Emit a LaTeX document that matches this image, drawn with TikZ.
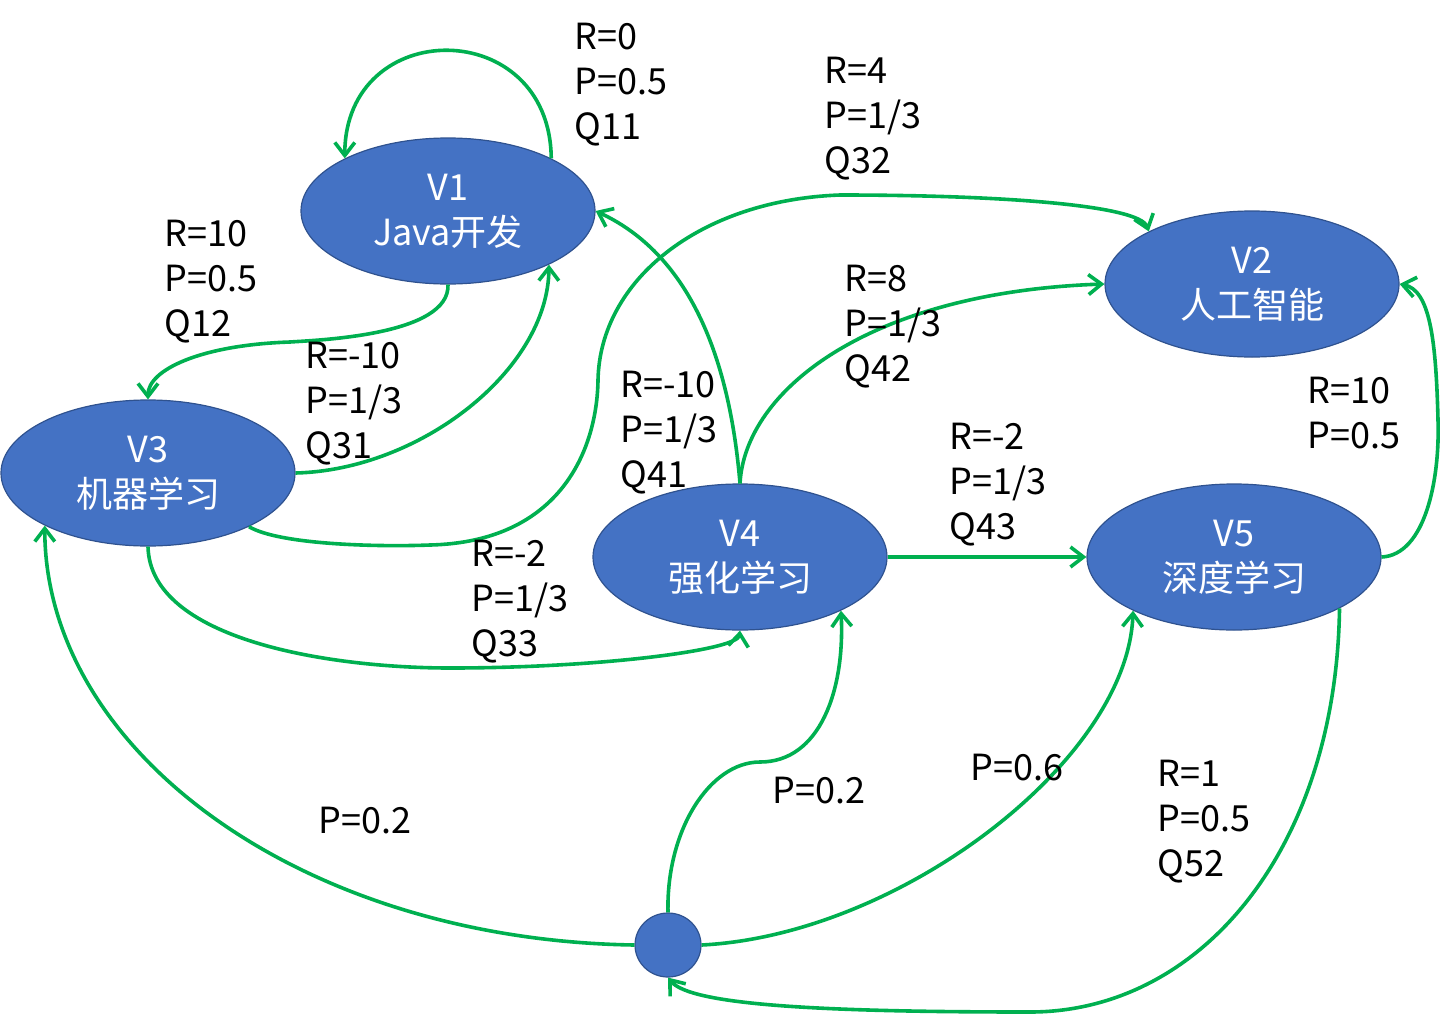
\documentclass[tikz,border=0pt]{standalone}
\usepackage{fontspec}
\setmainfont{Noto Sans CJK SC}
\usetikzlibrary{shapes.geometric,arrows.meta}
\definecolor{nodeblue}{HTML}{4472C4}
\definecolor{nodeborder}{HTML}{2F528F}
\definecolor{edgegreen}{HTML}{00B050}
\begin{document}
\begin{tikzpicture}[x=0.5pt,y=-0.5pt,
  state/.style={ellipse, fill=nodeblue, draw=nodeborder, line width=0.6pt,
    minimum width=147pt, minimum height=73pt, inner sep=0pt, text=white,
    align=center, font=\fontsize{18}{22.5}\selectfont},
  dot/.style={ellipse, fill=nodeblue, draw=nodeborder, line width=0.6pt,
    minimum width=33pt, minimum height=32pt, inner sep=0pt},
  edge/.style={draw=edgegreen, line width=1.8pt,
    -{Straight Barb[length=6.5pt,width=10pt]}},
  lbl/.style={align=left, anchor=north west, inner sep=0pt,
    font=\fontsize{18}{22.5}\selectfont}
]
\useasboundingbox (0,0) rectangle (1440,1017);

% states
\node[state] (v1) at (448,211) {V1\\Java开发};
\node[state] (v2) at (1252,284) {V2\\人工智能};
\node[state] (v3) at (148,473) {V3\\机器学习};
\node[state] (v4) at (740,557) {V4\\强化学习};
\node[state] (v5) at (1234,557) {V5\\深度学习};
\node[dot] (dot) at (668,945) {};

% edges
\draw[edge] (v1.27) .. controls (550,15) and (345,15) .. (v1.153);
\draw[edge] (v1.south) .. controls (450,335) and (320,340) .. (290,342)
  .. controls (200,345) and (148,370) .. (v3.north);
\draw[edge] (v3.east) .. controls (420,470) and (548,370) .. (v1.-28);
\draw[edge] (v3.-28) .. controls (280,545) and (380,547) .. (430,545)
  .. controls (560,542) and (597,450) .. (598,380)
  .. controls (600,280) and (700,200) .. (840,195)
  .. controls (1000,195) and (1140,205) .. (v2.153);
\draw[edge] (v4.north) .. controls (728,340) and (680,250) .. (v1.east);
\draw[edge] (v4.north) .. controls (745,390) and (870,292) .. (v2.west);
\draw[edge] (v4.east) -- (v5.west);
\draw[edge] (v3.south) .. controls (150,640) and (330,668) .. (450,668)
  .. controls (600,668) and (738,650) .. (v4.south);
\draw[edge] (v5.east) .. controls (1425,555) and (1440,480) .. (1438,420)
  .. controls (1436,340) and (1430,290) .. (v2.east);
\draw[edge] (dot.west) .. controls (300,940) and (45,750) .. (v3.207);
\draw[edge] (dot.north) .. controls (666,830) and (710,762) .. (760,762)
  .. controls (820,762) and (845,690) .. (v4.-28);
\draw[edge] (dot.east) .. controls (900,935) and (1128,760) .. (v5.208);
\draw[edge] (v5.-26) .. controls (1336,850) and (1200,1012) .. (1030,1012)
  .. controls (820,1012) and (690,1005) .. (dot.south);

% labels
\node[lbl] (l11) at (574,23) {R=0\\P=0.5\\Q11};
\node[lbl] (l32) at (824,57) {R=4\\P=1/3\\Q32};
\node[lbl] (l12) at (164,220) {R=10\\P=0.5\\Q12};
\node[lbl] (l31) at (305,342) {R=-10\\P=1/3\\Q31};
\node[lbl] (l42) at (844,265) {R=8\\P=1/3\\Q42};
\node[lbl] (l41) at (620,371) {R=-10\\P=1/3\\Q41};
\node[lbl] (l43) at (949,423) {R=-2\\P=1/3\\Q43};
\node[lbl] (l52b) at (1307,377) {R=10\\P=0.5};
\node[lbl] (l33) at (471,540) {R=-2\\P=1/3\\Q33};
\node[lbl] (p3) at (318,807) {P=0.2};
\node[lbl] (p4) at (772,777) {P=0.2};
\node[lbl] (p5) at (970,754) {P=0.6};
\node[lbl] (l52) at (1157,760) {R=1\\P=0.5\\Q52};
\end{tikzpicture}
\end{document}
